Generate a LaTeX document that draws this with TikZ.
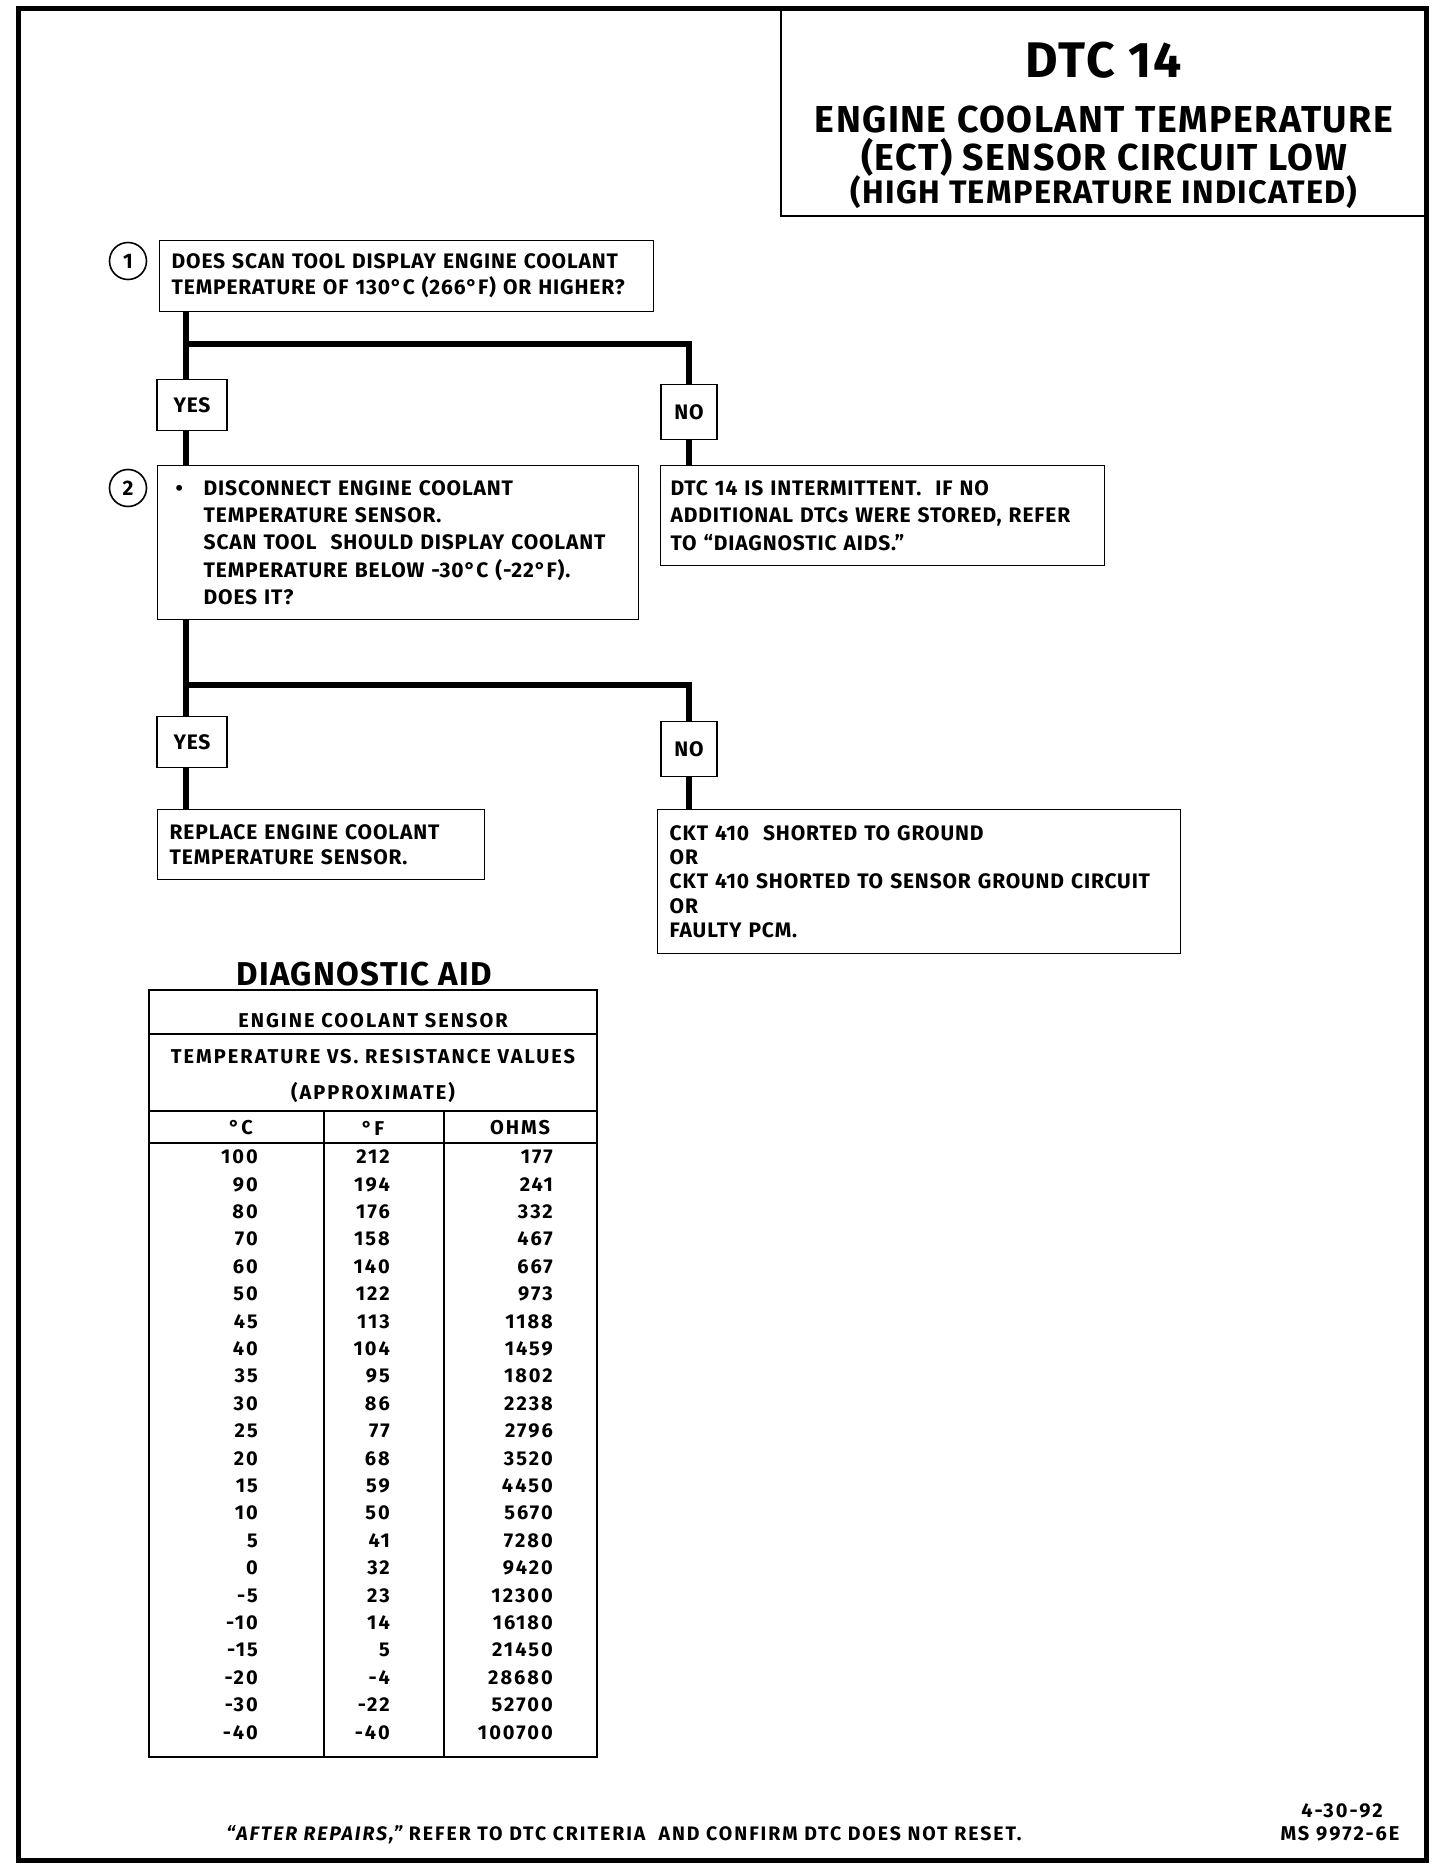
\documentclass[tikz,border=0pt]{standalone}
\usepackage{fontspec}
\setmainfont{Fira Sans}[LetterSpace=4]
\newfontfamily\widefont{Fira Sans}[LetterSpace=10, Ligatures=TeX]
\usetikzlibrary{positioning}
\tikzset{
  qbox/.style   = {draw, line width=1.4pt, anchor=north west, align=left,
                   inner ysep=0pt},
  ansbox/.style = {draw, line width=1.4pt, anchor=north, inner sep=0pt,
                   font=\ansfont},
  yesbox/.style = {ansbox, minimum width=70pt, minimum height=51pt},
  nobox/.style  = {ansbox, minimum width=56pt, minimum height=55pt},
  stepno/.style = {circle, draw, line width=1.6pt, minimum size=37pt,
                   inner sep=0pt, font=\ansfont},
  link/.style   = {line width=6pt},
  tblrule/.style= {line width=1.8pt},
  tcell/.style  = {anchor=east, inner sep=0pt, font=\cellfont},
  ttl/.style    = {inner sep=0pt}
}
\newcommand{\boxfont}[1]{\fontsize{21}{#1}\selectfont\bfseries}
\newcommand{\ansfont}{\fontsize{21}{24}\selectfont\bfseries}
\newcommand{\cellfont}{\widefont\fontsize{20}{24}\selectfont\bfseries}

\begin{document}
\begin{tikzpicture}[x=1pt, y=-1pt]
\fill[white] (0,0) rectangle (1440,1870);
\useasboundingbox (0,0) rectangle (1440,1870);
\draw[line width=5pt] (18,9) rectangle (1426,1860);

% title block
\node[draw, line width=1.6pt, anchor=north east, minimum width=644pt,
      minimum height=206pt] (titlebox) at (1426,9) {};
\node[ttl, font=\fontsize{50}{54}\selectfont\bfseries] (dtc) at (1104,60) {DTC 14};
\node[ttl, font=\fontsize{37.5}{40}\selectfont\bfseries] (ttl1) at (1104,120) {ENGINE COOLANT TEMPERATURE};
\node[ttl, font=\fontsize{37.5}{40}\selectfont\bfseries] (ttl2) at (1104,157) {(ECT) SENSOR CIRCUIT LOW};
\node[ttl, font=\fontsize{32.5}{36}\selectfont\bfseries] (ttl3) at (1104,192) {(HIGH TEMPERATURE INDICATED)};

% step 1
\node[stepno] (s1) at (128,261) {1};
\node[qbox, text width=470pt, inner xsep=12pt, minimum height=71pt,
      font=\boxfont{26}] (q1) at (159,240)
    {DOES SCAN TOOL DISPLAY ENGINE COOLANT\\TEMPERATURE OF 130°C (266°F) OR HIGHER?};
\coordinate (fork1) at (186,344);
\node[yesbox] (yes1) at (192,379) {YES};
\node[nobox]  (no1)  at (689,384) {NO};
\node[qbox, text width=424pt, inner xsep=10pt, minimum height=100pt,
      font=\boxfont{27.5}] (intm) at (660,465)
    {DTC 14 IS INTERMITTENT.\ \ IF NO\\ADDITIONAL DTCs WERE STORED, REFER\\TO ``DIAGNOSTIC AIDS.''};

% step 2
\node[stepno] (s2) at (128,488) {2};
\node[qbox, text width=445pt, inner xsep=18pt, minimum height=154pt,
      font=\boxfont{27.4}] (q2) at (157,465)
    {\makebox[28pt][l]{\textbullet}DISCONNECT ENGINE COOLANT\\
     \hspace*{28pt}TEMPERATURE SENSOR.\\
     \hspace*{28pt}SCAN TOOL\ \ SHOULD DISPLAY COOLANT\\
     \hspace*{28pt}TEMPERATURE BELOW -30°C (-22°F).\\
     \hspace*{28pt}DOES IT?};
\coordinate (fork2) at (186,685);
\node[yesbox] (yes2) at (192,716) {YES};
\node[nobox]  (no2)  at (689,721) {NO};
\node[qbox, text width=303pt, inner xsep=12pt, minimum height=70pt,
      font=\boxfont{25}] (repl) at (157,809)
    {REPLACE ENGINE COOLANT\\TEMPERATURE SENSOR.};
\node[qbox, text width=499pt, inner xsep=12pt, minimum height=144pt,
      font=\boxfont{24.3}] (ckt) at (657,809)
    {CKT 410\ \ SHORTED TO GROUND\\OR\\CKT 410 SHORTED TO SENSOR GROUND CIRCUIT\\OR\\FAULTY PCM.};

% connectors
\draw[link] (q1.south -| fork1) -- (yes1.north -| fork1);
\draw[link] (fork1) -| (no1.north);
\draw[link] (yes1.south -| fork1) -- (q2.north -| fork1);
\draw[link] (no1.south) -- (no1.south |- intm.north);
\draw[link] (q2.south -| fork2) -- (yes2.north -| fork2);
\draw[link] (fork2) -| (no2.north);
\draw[link] (yes2.south -| fork2) -- (repl.north -| fork2);
\draw[link] (no2.south) -- (no2.south |- ckt.north);

% diagnostic aid table
\node[font=\fontsize{33}{36}\selectfont\bfseries] (aid) at (364,974) {DIAGNOSTIC AID};
\draw[tblrule, line width=2.4pt] (149,990) rectangle (597,1757);
\draw[tblrule] (149,1034) -- (597,1034);
\draw[tblrule] (149,1111) -- (597,1111);
\draw[tblrule] (149,1143) -- (597,1143);
\draw[tblrule] (324,1111) -- (324,1757);
\draw[tblrule] (444,1111) -- (444,1757);
\node[font=\cellfont] (sens) at (373,1021) {ENGINE COOLANT SENSOR};
\node[font=\cellfont] (tvr)  at (373,1057) {TEMPERATURE VS. RESISTANCE VALUES};
\node[font=\cellfont] (appx) at (373,1092) {(APPROXIMATE)};
\node[font=\cellfont] (hc) at (241,1128) {°C};
\node[font=\cellfont] (hf) at (373,1128) {°F};
\node[font=\cellfont] (ho) at (520,1128) {OHMS};
\foreach \degc/\degf/\ohms [count=\i from 0] in
  {100/212/177, 90/194/241, 80/176/332, 70/158/467, 60/140/667, 50/122/973,
   45/113/1188, 40/104/1459, 35/95/1802, 30/86/2238, 25/77/2796, 20/68/3520,
   15/59/4450, 10/50/5670, 5/41/7280, 0/32/9420, -5/23/12300, -10/14/16180,
   -15/5/21450, -20/-4/28680, -30/-22/52700, -40/-40/100700}
{
  \node[tcell] (c\i) at (258,1157+27.4*\i) {\degc};
  \node[tcell] (f\i) at (390,1157+27.4*\i) {\degf};
  \node[tcell] (o\i) at (553,1157+27.4*\i) {\ohms};
}

% footer
\node[font=\widefont\fontsize{19.5}{24}\selectfont\bfseries] (note) at (624,1835)
    {{\itshape “AFTER REPAIRS,”} REFER TO DTC CRITERIA\ \ AND CONFIRM DTC DOES NOT RESET.};
\node[font=\cellfont] (date) at (1342,1811) {4-30-92};
\node[font=\cellfont] (msno) at (1340,1834) {MS 9972-6E};
\end{tikzpicture}
\end{document}
